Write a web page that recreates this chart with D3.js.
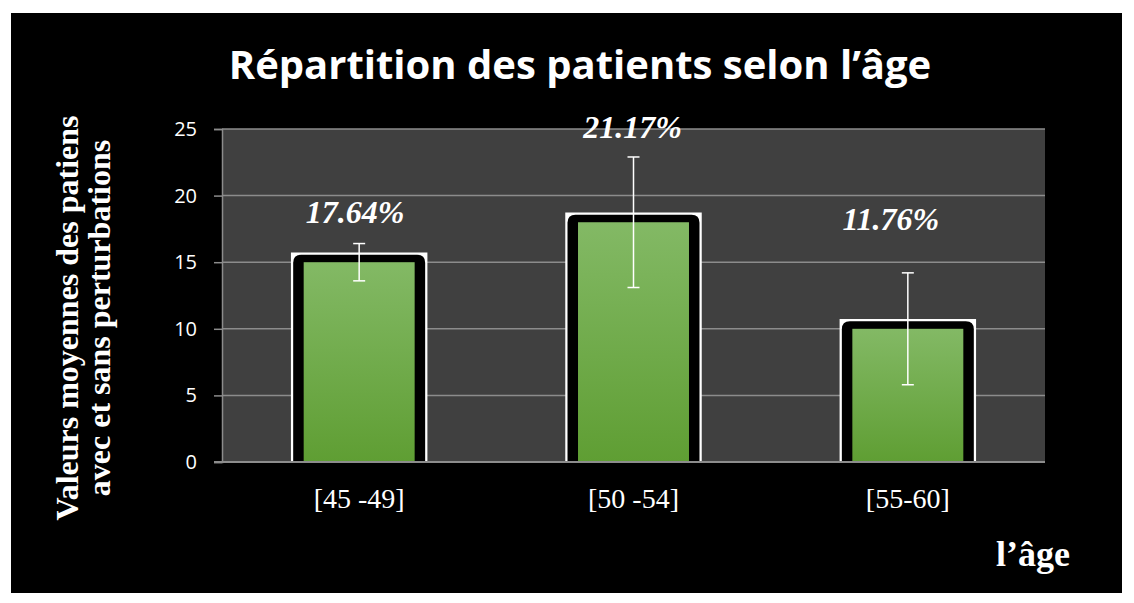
<!DOCTYPE html>
<html>
<head>
<meta charset="utf-8">
<script src="https://cdn.jsdelivr.net/npm/d3@7"></script>
<style>
  body { margin: 0; background: #ffffff; }
  svg { display: block; }
</style>
</head>
<body>
<script>
// data
const ageGroups = ["[45 -49]", "[50 -54]", "[55-60]"];
const meanValues = [15, 18, 10];
const errValues = [1.4, 4.9, 4.2];
const pctLabels = ["17.64%", "21.17%", "11.76%"];
const yTicks = [0, 5, 10, 15, 20, 25];

const W = 1134, H = 603;
const plot = {left: 222, right: 1045, top: 129, bottom: 462};
const serif = "'Times New Roman', 'Liberation Serif', 'DejaVu Serif', serif";

const svg = d3.select("body").append("svg")
    .attr("width", W)
    .attr("height", H);

// black slide background
svg.append("rect")
    .attr("x", 11).attr("y", 13)
    .attr("width", 1111).attr("height", 580)
    .attr("fill", "#000");

const defs = svg.append("defs");
const grad = defs.append("linearGradient")
    .attr("id", "greenGrad")
    .attr("x1", 0).attr("y1", 0).attr("x2", 0).attr("y2", 1);
grad.append("stop").attr("offset", "0%").attr("stop-color", "#83b965");
grad.append("stop").attr("offset", "100%").attr("stop-color", "#5f9e33");

const x = d3.scaleBand()
    .domain(ageGroups)
    .range([plot.left, plot.right])
    .paddingInner(0.508)
    .paddingOuter(0.254);

const y = d3.scaleLinear()
    .domain([0, 25])
    .range([plot.bottom, plot.top]);

// plot area
svg.append("rect")
    .attr("x", plot.left).attr("y", plot.top)
    .attr("width", plot.right - plot.left)
    .attr("height", plot.bottom - plot.top)
    .attr("fill", "#404040");

// gridlines
svg.append("g")
    .selectAll("line")
    .data(yTicks.filter(d => d > 0))
    .join("line")
    .attr("x1", plot.left).attr("x2", plot.right)
    .attr("y1", d => y(d)).attr("y2", d => y(d))
    .attr("stroke", "#8c8c8c")
    .attr("stroke-width", 1.5);

// y axis
const yAxis = svg.append("g")
    .attr("transform", "translate(" + plot.left + ",0)")
    .call(d3.axisLeft(y).tickValues(yTicks).tickSize(8).tickPadding(17));
yAxis.select(".domain").attr("stroke", "#8c8c8c").attr("stroke-width", 1.5);
yAxis.selectAll(".tick line").attr("stroke", "#8c8c8c").attr("stroke-width", 1.5);
yAxis.selectAll("text")
    .attr("fill", "#fff")
    .style("font-family", "'Open Sans', sans-serif")
    .style("font-size", "20px");

// bars: white square frame, rounded black border, green fill
const bars = svg.append("g").selectAll("g")
    .data(meanValues)
    .join("g");

bars.append("path")
    .attr("d", (d, i) => {
        const x0 = x(ageGroups[i]), x1 = x0 + x.bandwidth();
        const top = y(d) - 9, bot = plot.bottom;
        return "M" + x0 + "," + bot + "V" + top + "H" + x1 + "V" + bot;
    })
    .attr("fill", "#fff")
    .attr("stroke", "#fff")
    .attr("stroke-width", 1.5);

bars.append("path")
    .attr("d", (d, i) => {
        const x0 = x(ageGroups[i]) + 1.5, x1 = x(ageGroups[i]) + x.bandwidth() - 1.5;
        const top = y(d) - 7.5, bot = plot.bottom, r = 8;
        return "M" + x0 + "," + bot + "V" + (top + r) +
            "Q" + x0 + "," + top + " " + (x0 + r) + "," + top +
            "H" + (x1 - r) + "Q" + x1 + "," + top + " " + x1 + "," + (top + r) +
            "V" + bot + "Z";
    })
    .attr("fill", "#000");

bars.append("rect")
    .attr("x", (d, i) => x(ageGroups[i]) + 12)
    .attr("y", d => y(d))
    .attr("width", x.bandwidth() - 24)
    .attr("height", d => plot.bottom - y(d))
    .attr("fill", "url(#greenGrad)");

// baseline
svg.append("line")
    .attr("x1", plot.left - 8).attr("x2", plot.right)
    .attr("y1", plot.bottom).attr("y2", plot.bottom)
    .attr("stroke", "#8c8c8c")
    .attr("stroke-width", 2);

// error bars
const errs = svg.append("g").selectAll("g")
    .data(meanValues)
    .join("g")
    .attr("stroke", "#fff")
    .attr("stroke-width", 1.5);
errs.append("line")
    .attr("x1", (d, i) => x(ageGroups[i]) + x.bandwidth() / 2)
    .attr("x2", (d, i) => x(ageGroups[i]) + x.bandwidth() / 2)
    .attr("y1", (d, i) => y(d + errValues[i]))
    .attr("y2", (d, i) => y(d - errValues[i]));
errs.selectAll(".cap")
    .data((d, i) => [[i, d + errValues[i]], [i, d - errValues[i]]])
    .join("line")
    .attr("class", "cap")
    .attr("x1", c => x(ageGroups[c[0]]) + x.bandwidth() / 2 - 6)
    .attr("x2", c => x(ageGroups[c[0]]) + x.bandwidth() / 2 + 6)
    .attr("y1", c => y(c[1]))
    .attr("y2", c => y(c[1]));

// percentage labels, placed above the error bars
const labelDy = [-21, -19, -43];
const labelDx = [-4, -1, -17];
svg.append("g").selectAll("text")
    .data(pctLabels)
    .join("text")
    .attr("x", (d, i) => x(ageGroups[i]) + x.bandwidth() / 2 + labelDx[i])
    .attr("y", (d, i) => y(meanValues[i] + errValues[i]) + labelDy[i])
    .attr("text-anchor", "middle")
    .attr("fill", "#fff")
    .style("font-family", serif)
    .style("font-weight", "bold")
    .style("font-style", "italic")
    .style("font-size", "32px")
    .text(d => d);

// x category labels
svg.append("g").selectAll("text")
    .data(ageGroups)
    .join("text")
    .attr("x", d => x(d) + x.bandwidth() / 2)
    .attr("y", 508)
    .attr("text-anchor", "middle")
    .attr("fill", "#fff")
    .style("font-family", serif)
    .style("font-size", "28px")
    .text(d => d);

// title
svg.append("text")
    .attr("x", 580).attr("y", 79)
    .attr("text-anchor", "middle")
    .attr("fill", "#fff")
    .style("font-family", "'Open Sans', sans-serif")
    .style("font-weight", "bold")
    .style("font-size", "40px")
    .text("Répartition des patients selon l’âge");

// y axis title, two lines
const yTitle = svg.append("text")
    .attr("transform", "translate(78,318) rotate(-90)")
    .attr("text-anchor", "middle")
    .attr("fill", "#fff")
    .style("font-family", serif)
    .style("font-weight", "bold")
    .style("font-size", "32px");
yTitle.append("tspan").attr("x", 0).attr("dy", 0).text("Valeurs moyennes des patiens");
yTitle.append("tspan").attr("x", 0).attr("dy", 32).text("avec et sans perturbations");

// x axis title
svg.append("text")
    .attr("x", 1070).attr("y", 566)
    .attr("text-anchor", "end")
    .attr("fill", "#fff")
    .style("font-family", serif)
    .style("font-weight", "bold")
    .style("font-size", "36px")
    .text("l’âge");
</script>
</body>
</html>
